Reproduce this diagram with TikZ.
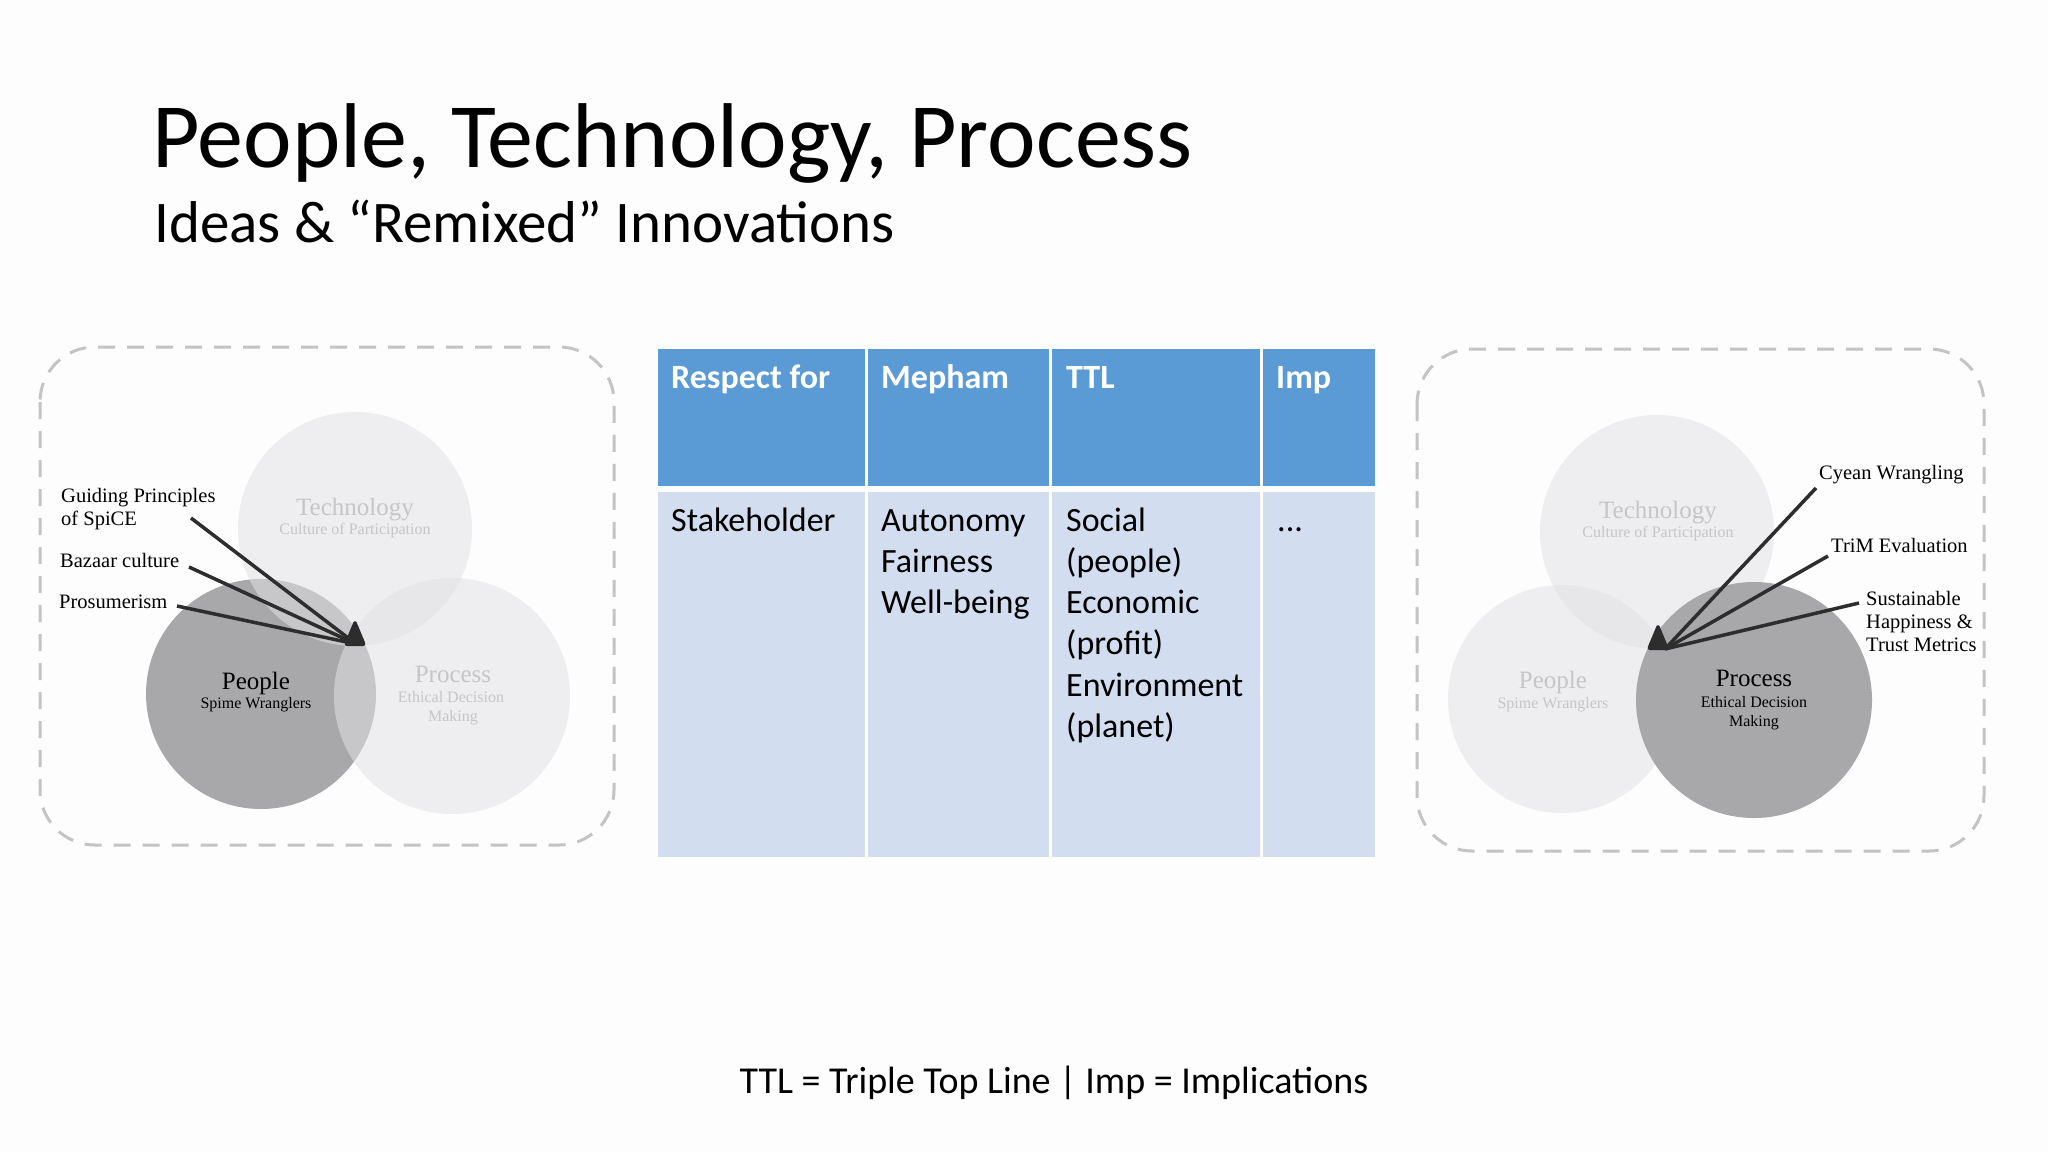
\documentclass[tikz,border=0pt]{standalone}
\usepackage{fontspec}
\setmainfont{Carlito}
\newfontfamily\tnr{Liberation Serif}
\definecolor{bgc}{RGB}{253,253,253}
\definecolor{hdrblue}{RGB}{91,155,213}
\definecolor{bodyblue}{RGB}{210,222,239}
\definecolor{darkc}{RGB}{168,167,170}
\definecolor{lightc}{RGB}{226,225,228}
\definecolor{fainttxt}{RGB}{198,198,198}
\definecolor{dashc}{RGB}{196,196,196}
\definecolor{ptrc}{RGB}{45,45,45}
\newcommand\mylines[1]{\begin{tabular}[t]{@{}l@{}}#1\end{tabular}}
\begin{document}
\begin{tikzpicture}[x=1pt,y=-1pt,
  titletxt/.style={anchor=base west,inner sep=0pt,font=\fontsize{92}{110}\selectfont},
  subtxt/.style={anchor=base west,inner sep=0pt,font=\fontsize{59}{70}\selectfont},
  hdrtxt/.style={anchor=base west,inner sep=0pt,text=white,font=\fontsize{34}{41.3}\selectfont\bfseries},
  bodytxt/.style={anchor=base west,inner sep=0pt,font=\fontsize{34}{41.3}\selectfont},
  foottxt/.style={anchor=base,inner sep=0pt,font=\fontsize{38}{46}\selectfont},
  dashbox/.style={draw=dashc,line width=3pt,dash pattern=on 17pt off 12pt,rounded corners=55pt},
  darkcirc/.style={fill=darkc},
  lightcirc/.style={fill=lightc,fill opacity=0.55},
  vbig/.style={anchor=base,inner sep=0pt,font=\tnr\fontsize{25}{30}\selectfont},
  vsmall/.style={anchor=base,inner sep=0pt,font=\tnr\fontsize{16}{19}\selectfont},
  lbl/.style={anchor=base west,inner sep=0pt,font=\tnr\fontsize{20.5}{23.5}\selectfont},
  ptr/.style={draw=ptrc,line width=3.5pt},
  tri/.style={fill=ptrc,draw=ptrc,line width=2pt,line join=round,rounded corners=2pt}]
\useasboundingbox (0,0) rectangle (2048,1152);
\fill[bgc] (0,0) rectangle (2048,1152);

% titles
\node[titletxt] (title) at (152,167) {People, Technology, Process};
\node[subtxt] (subtitle) at (154,242) {Ideas \& “Remixed” Innovations};

% table
\fill[hdrblue] (658,349) rectangle (865,486);
\fill[hdrblue] (868,349) rectangle (1049,486);
\fill[hdrblue] (1052,349) rectangle (1260,486);
\fill[hdrblue] (1263,349) rectangle (1375,486);
\fill[bodyblue] (658,492) rectangle (865,857);
\fill[bodyblue] (868,492) rectangle (1049,857);
\fill[bodyblue] (1052,492) rectangle (1260,857);
\fill[bodyblue] (1263,492) rectangle (1375,857);
\node[hdrtxt] (h1) at (671,388) {Respect for};
\node[hdrtxt] (h2) at (881,388) {Mepham};
\node[hdrtxt] (h3) at (1066,388) {TTL};
\node[hdrtxt] (h4) at (1276,388) {Imp};
\node[bodytxt] (b1) at (671,531) {\mylines{Stakeholder}};
\node[bodytxt] (b2) at (881,531) {\mylines{Autonomy\\Fairness\\Well-being}};
\node[bodytxt] (b3) at (1066,531) {\mylines{Social\\(people)\\Economic\\(profit)\\Environment\\(planet)}};
\node[bodytxt] (b4) at (1277,531) {\mylines{...}};

% footer
\node[foottxt] (foot) at (1054,1093) {TTL = Triple Top Line | Imp = Implications};

% ---------- left Venn ----------
\draw[dashbox] (40,347) rectangle (614,845);
\fill[darkcirc] (261,694) circle (115pt);
\fill[lightcirc] (355,529) circle (117pt);
\fill[lightcirc] (452,696) circle (118pt);
\node[vbig,text=fainttxt] (techL) at (355,515) {Technology};
\node[vsmall,text=fainttxt] (techLs) at (355,534) {Culture of Participation};
\node[vbig,text=black] (pplL) at (256,689) {People};
\node[vsmall,text=black] (pplLs) at (256,708) {Spime Wranglers};
\node[vbig,text=fainttxt] (procL) at (453,682) {Process};
\node[vsmall,text=fainttxt] (procLs) at (451,702) {Ethical Decision};
\node[vsmall,text=fainttxt] (procLm) at (453,721) {Making};
\node[lbl] (gpL) at (61,502) {Guiding Principles};
\node[lbl] (gpL2) at (61,525) {of SpiCE};
\node[lbl] (bzL) at (60,567) {Bazaar culture};
\node[lbl] (prL) at (59,608) {Prosumerism};
\coordinate (gpS) at (191,518);
\coordinate (bzS) at (189,567);
\coordinate (prS) at (177,606);
\coordinate (tipL) at (356,644);
\draw[ptr] (gpS) -- (tipL);
\draw[ptr] (bzS) -- (tipL);
\draw[ptr] (prS) -- (tipL);
\fill[tri] (355,621) -- (345,645) -- (365,645) -- cycle;

% ---------- right Venn ----------
\draw[dashbox] (1417,349) rectangle (1984,851);
\fill[lightcirc] (1657,532) circle (117pt);
\fill[lightcirc] (1562,699) circle (114pt);
\fill[darkcirc] (1754,700) circle (118pt);
\node[vbig,text=fainttxt] (techR) at (1658,518) {Technology};
\node[vsmall,text=fainttxt] (techRs) at (1658,537) {Culture of Participation};
\node[vbig,text=fainttxt] (pplR) at (1553,688) {People};
\node[vsmall,text=fainttxt] (pplRs) at (1553,708) {Spime Wranglers};
\node[vbig,text=black] (procR) at (1754,686) {Process};
\node[vsmall,text=black] (procRs) at (1754,707) {Ethical Decision};
\node[vsmall,text=black] (procRm) at (1754,726) {Making};
\node[lbl] (cwR) at (1819,479) {Cyean Wrangling};
\node[lbl] (tmR) at (1831,552) {TriM Evaluation};
\node[lbl] (shR) at (1866,605) {Sustainable};
\node[lbl] (shR2) at (1866,628) {Happiness \&};
\node[lbl] (shR3) at (1866,651) {Trust Metrics};
\coordinate (cwS) at (1816,488);
\coordinate (tmS) at (1828,556);
\coordinate (shS) at (1859,603);
\coordinate (tipR) at (1665,649);
\draw[ptr] (cwS) -- (tipR);
\draw[ptr] (tmS) -- (tipR);
\draw[ptr] (shS) -- (tipR);
\fill[tri] (1658,625) -- (1648,649) -- (1668,649) -- cycle;
\end{tikzpicture}
\end{document}
